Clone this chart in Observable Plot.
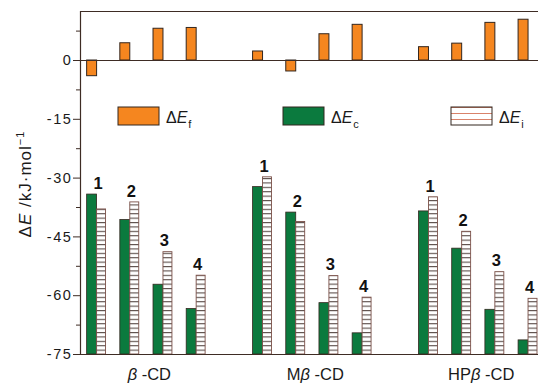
<!DOCTYPE html>
<html><head><meta charset="utf-8">
<script src="https://cdn.jsdelivr.net/npm/d3@7"></script>
<script src="https://cdn.jsdelivr.net/npm/@observablehq/plot@0.6"></script>
<style>body{margin:0;background:#fff} svg{display:block}</style>
</head><body><div id="chart"></div>
<script>
// ---- data (kJ/mol) ----
const groups = ["β-CD", "Mβ-CD", "HPβ-CD"];
const complexes = ["1", "2", "3", "4"];
const dEf = [-4.0, 4.4, 8.1, 8.3,   2.3, -2.8, 6.7, 9.1,   3.4, 4.3, 9.6, 10.4];
const dEc = [-34.2, -40.7, -57.2, -63.4,   -32.3, -38.8, -61.9, -69.6,   -38.5, -48.0, -63.6, -71.4];
const dEi = [-38.0, -36.2, -48.9, -54.9,   -29.8, -41.2, -55.0, -60.5,   -34.9, -43.7, -54.0, -60.8];
const yTicks = [0, -15, -30, -45, -60, -75];
const yMinorTicks = [7.5, -7.5, -22.5, -37.5, -52.5, -67.5];
const yDomain = [-75, 12.5];

const rows = [];
groups.forEach((g, gi) => complexes.forEach((c, ci) => {
  const k = gi * 4 + ci;
  rows.push({slot: gi * 5 + ci, group: g, complex: c, f: dEf[k], c: dEc[k], i: dEi[k],
             top: Math.max(dEc[k], dEi[k])});
}));
const groupCenters = groups.map((g, gi) => ({group: g, slot: gi * 5 + 1.5}));

const W = 0.3;
const axisColor = "#3e2c24";
const outline = "#33261e";
const base = yDomain[0];

const plot = Plot.plot({
  width: 543, height: 386,
  marginLeft: 80, marginRight: 5, marginTop: 11, marginBottom: 32,
  style: {fontFamily: "'Liberation Sans', Arial, sans-serif", fontSize: "14px", color: "#1a1a1a", background: "#fff"},
  x: {domain: [-0.5, 13.3], axis: null},
  y: {domain: yDomain, axis: null},
  marks: [
    Plot.rect(rows, {x1: d => d.slot - W, x2: d => d.slot, y1: d => base, y2: "c",
      fill: "#0b7a3e", stroke: outline, strokeWidth: 0.8}),
    Plot.rect(rows, {x1: d => d.slot, x2: d => d.slot + W * 0.9, y1: d => base, y2: "i",
      fill: "url(#hatch)", stroke: "#7a5048", strokeWidth: 0.9}),
    Plot.rect(rows, {x1: d => d.slot - W, x2: d => d.slot, y1: d => 0, y2: "f",
      fill: "#f5861f", stroke: outline, strokeWidth: 1}),
    Plot.text(rows, {x: d => d.slot + 0.03, y: "top", text: "complex", dy: -11,
      fontWeight: "bold", fontSize: 16.5, fill: "#111"}),
    Plot.ruleY([0], {stroke: axisColor, strokeWidth: 1.2}),
    Plot.ruleY([yDomain[1]], {stroke: axisColor, strokeWidth: 1.2}),
    Plot.ruleY([yDomain[0]], {stroke: axisColor, strokeWidth: 1.2}),
    Plot.ruleX([-0.5], {stroke: axisColor, strokeWidth: 1.2}),
    Plot.axisY({ticks: yTicks, tickFormat: d => String(d), tickSize: 7, tickPadding: 1,
      stroke: axisColor, label: null, fontSize: 14.5}),
    Plot.axisY({ticks: yMinorTicks, tickSize: 4, text: null, stroke: axisColor, label: null})
  ]
});

const svg = d3.select(plot);
const defs = svg.insert("defs", ":first-child");
function hatch(id, h, color, off) {
  const p = defs.append("pattern").attr("id", id).attr("patternUnits", "userSpaceOnUse")
    .attr("width", 40).attr("height", h).attr("patternTransform", `translate(0,${off})`);
  p.append("rect").attr("width", 40).attr("height", h).attr("fill", "#fff");
  p.append("line").attr("x1", 0).attr("x2", 40).attr("y1", 0.5).attr("y2", 0.5)
    .attr("stroke", color).attr("stroke-width", 1);
}
const y = plot.scale("y"), x = plot.scale("x");
hatch("hatch", 4.4, "#5a4c48", y.apply(base) % 4.4);
hatch("hatchLeg", 6, "#d9826a", 107);

// tick label spacing
svg.selectAll('[aria-label="y-axis tick label"] text').attr("letter-spacing", "1.6px");

// y axis title
const yt = svg.append("text").attr("transform", "translate(31,184) rotate(-90)")
  .attr("text-anchor", "middle").attr("font-size", 17).attr("letter-spacing", "1px").attr("fill", "#1a1a1a");
yt.append("tspan").text("Δ");
yt.append("tspan").attr("font-style", "italic").text("E");
yt.append("tspan").text(" /kJ·mol");
yt.append("tspan").attr("font-size", 11).attr("dy", -7).text("−1");

// group labels
groupCenters.forEach(gc => {
  const t = svg.append("text").attr("x", x.apply(gc.slot) + 3).attr("y", 380)
    .attr("text-anchor", "middle").attr("font-size", 16.5).attr("fill", "#1a1a1a");
  const idx = gc.group.indexOf("β");
  if (idx > 0) t.append("tspan").text(gc.group.slice(0, idx));
  t.append("tspan").attr("font-style", "italic").text("β");
  t.append("tspan").text(" " + gc.group.slice(idx + 1));
});

// legend
const legend = [
  {fill: "#f5861f", sub: "f", x: 118},
  {fill: "#0b7a3e", sub: "c", x: 283},
  {fill: "url(#hatchLeg)", sub: "i", x: 451}
];
legend.forEach(l => {
  svg.append("rect").attr("x", l.x).attr("y", 107).attr("width", 41).attr("height", 18)
    .attr("fill", l.fill).attr("stroke", outline).attr("stroke-width", 1);
  const t = svg.append("text").attr("x", l.x + 48).attr("y", 123).attr("text-anchor", "start")
    .attr("font-size", 16).attr("fill", "#1a1a1a");
  t.append("tspan").text("Δ");
  t.append("tspan").attr("font-style", "italic").text("E");
  t.append("tspan").attr("font-size", 11).attr("dy", 5).attr("dx", 1).text(l.sub);
});

document.getElementById("chart").appendChild(plot);
</script></body></html>
